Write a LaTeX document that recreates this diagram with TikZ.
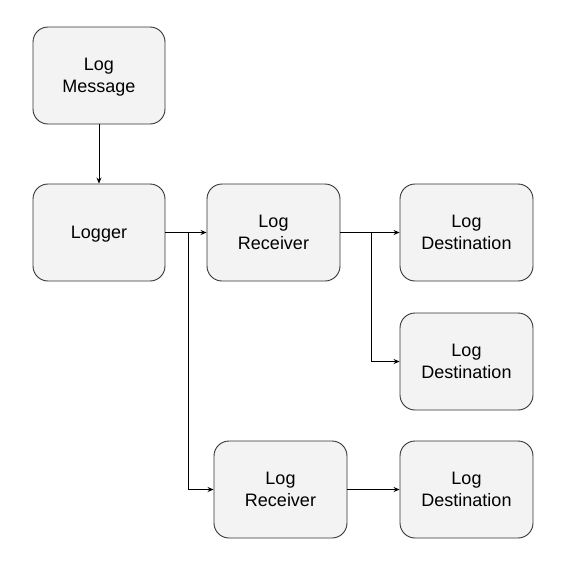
\documentclass[tikz,border=0pt]{standalone}
\usepackage{fontspec}
\setmainfont{Liberation Sans}
\usetikzlibrary{arrows.meta}
\definecolor{boxfill}{HTML}{F3F3F3}
\definecolor{boxline}{HTML}{333333}
\begin{document}
\begin{tikzpicture}[x=1pt,y=-1pt,
  box/.style={draw=boxline, line width=0.9pt, fill=boxfill, rounded corners=15pt,
    minimum width=132pt, minimum height=97pt, inner sep=0pt, align=center,
    text depth=-2pt,
    font=\fontsize{18}{21.5}\selectfont},
  conn/.style={draw=black, line width=0.9pt, -{Stealth[length=6pt,width=5pt]}},
  seg/.style={draw=black, line width=0.9pt}]
\useasboundingbox (0,0) rectangle (566,566);
\node[box] (msg) at (99,75.5) {Log\\Message};
\node[box] (logger) at (99,232.5) {Logger};
\node[box, minimum width=133pt] (rec1) at (273.5,232.5) {Log\\Receiver};
\node[box, minimum width=133pt] (dst1) at (466.5,232.5) {Log\\Destination};
\node[box, minimum width=133pt] (dst2) at (466.5,361.5) {Log\\Destination};
\node[box, minimum width=133pt] (rec2) at (280.5,489.5) {Log\\Receiver};
\node[box, minimum width=133pt] (dst3) at (466.5,489.5) {Log\\Destination};
\coordinate (b1) at (188,232.5);
\coordinate (b2) at (371,232.5);
\draw[conn] (msg) -- (logger);
\draw[conn] (logger) -- (rec1);
\draw[conn] (b1) |- (rec2.west);
\draw[conn] (rec1) -- (dst1);
\draw[conn] (b2) |- (dst2.west);
\draw[conn] (rec2) -- (dst3);
\end{tikzpicture}
\end{document}
